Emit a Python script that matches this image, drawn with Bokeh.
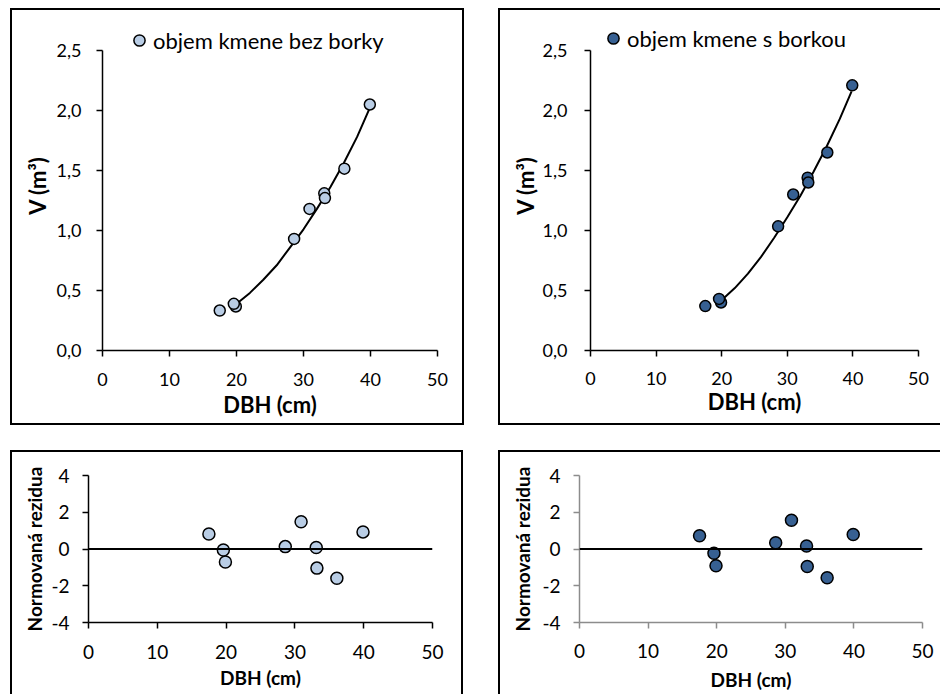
from bokeh.plotting import figure
from bokeh.models import Range1d, FixedTicker, Legend, LegendItem, Span
from bokeh.layouts import column, row
from bokeh.embed import file_html
from bokeh.resources import INLINE

# ---------------- data ----------------
dbh = [17.5, 19.9, 19.6, 28.6, 30.9, 33.1, 33.2, 36.1, 39.9]
v_bez = [0.333, 0.367, 0.389, 0.93, 1.18, 1.31, 1.27, 1.515, 2.05]
v_s = [0.37, 0.40, 0.43, 1.035, 1.30, 1.44, 1.40, 1.65, 2.21]
res_bez = [0.82, -0.71, -0.05, 0.13, 1.48, 0.08, -1.04, -1.59, 0.93]
res_s = [0.72, -0.91, -0.23, 0.34, 1.56, 0.16, -0.95, -1.56, 0.79]

curve_dbh = [19.6, 22, 24, 26, 28, 30, 32, 34, 36, 38, 39.8]
curve_v_bez = [0.37, 0.48, 0.59, 0.71, 0.86, 1.01, 1.18, 1.36, 1.56, 1.78, 2.01]
curve_v_s = [0.40, 0.52, 0.64, 0.78, 0.94, 1.11, 1.29, 1.49, 1.70, 1.93, 2.16]

x_ticks = [0, 10, 20, 30, 40, 50]
x_tick_labels = ["0", "10", "20", "30", "40", "50"]
v_ticks = [0.0, 0.5, 1.0, 1.5, 2.0, 2.5]
v_tick_labels = ["0,0", "0,5", "1,0", "1,5", "2,0", "2,5"]
r_ticks = [-4, -2, 0, 2, 4]
r_tick_labels = ["-4", "-2", "0", "2", "4"]

label_bez = "objem kmene bez borky"
label_s = "objem kmene s borkou"
x_title = "DBH (cm)"
v_title = "V (m³)"
r_title = "Normovaná rezidua"

FILL_LIGHT = "#B9CDE5"
FILL_DARK = "#376092"
FONT = "Lato"


def border_style(sides):
    parts = []
    if "l" in sides:
        parts.append("inset 2px 0 0 0 #000")
    if "r" in sides:
        parts.append("inset -2px 0 0 0 #000")
    if "t" in sides:
        parts.append("inset 0 2px 0 0 #000")
    if "b" in sides:
        parts.append("inset 0 -2px 0 0 #000")
    return {"box-shadow": ", ".join(parts)}


def make_fig(width, height, mbl, mbr, mbt, mbb, y0, y1, margin, sides):
    p = figure(width=width, height=height,
               x_range=Range1d(0, 50), y_range=Range1d(y0, y1),
               output_backend="svg", toolbar_location=None,
               min_border_left=mbl, min_border_right=mbr,
               min_border_top=mbt, min_border_bottom=mbb)
    p.margin = margin
    p.styles = border_style(sides)
    p.grid.visible = False
    p.outline_line_color = None
    p.border_fill_color = None
    p.background_fill_color = None
    p.xaxis.ticker = FixedTicker(ticks=x_ticks)
    p.xaxis.major_label_overrides = {float(t): l for t, l in zip(x_ticks, x_tick_labels)}
    for ax in p.axis:
        ax.major_tick_in = 0
        ax.minor_tick_in = 0
        ax.minor_tick_out = 0
        ax.major_label_text_font = FONT
        ax.major_label_text_color = "#000000"
        ax.axis_label_text_font = FONT
        ax.axis_label_text_font_style = "bold"
        ax.axis_label_text_color = "#000000"
    return p


def top_panel(width, mbl, mbr, mbt, mbb, margin, sides, v, curve_v, fill, label, leg_loc,
              xls, xts, yls, yts):
    p = make_fig(width, 417, mbl, mbr, mbt, mbb, 0, 2.75, margin, sides)
    p.yaxis.ticker = FixedTicker(ticks=v_ticks)
    p.yaxis.major_label_overrides = {float(t): l for t, l in zip(v_ticks, v_tick_labels)}
    p.yaxis.bounds = (v_ticks[0], v_ticks[-1])
    for ax in p.axis:
        ax.axis_line_color = "#000000"
        ax.axis_line_width = 1.5
        ax.major_tick_line_color = "#000000"
        ax.major_tick_line_width = 1.5
        ax.major_tick_out = 6
        ax.major_label_text_font_size = "18px"
        ax.axis_label_text_font_size = "22px"
    p.xaxis.major_label_standoff = xls
    p.xaxis.axis_label_standoff = xts
    p.yaxis.major_label_standoff = yls
    p.yaxis.axis_label_standoff = yts
    p.xaxis.axis_label = x_title
    p.yaxis.axis_label = v_title
    p.line(curve_dbh, curve_v, line_color="#000000", line_width=2)
    r = p.scatter(dbh, v, size=11, fill_color=fill, line_color="#000000", line_width=1.5)
    leg = Legend(items=[LegendItem(label=label, renderers=[r])], location=leg_loc,
                 border_line_color=None, background_fill_alpha=0, padding=0, margin=0,
                 glyph_width=28, glyph_height=28, label_standoff=0, spacing=0,
                 label_text_font=FONT, label_text_font_size="22px", label_text_color="#000000")
    p.add_layout(leg)
    return p


def bottom_panel(width, mbl, mbr, mbt, mbb, margin, sides, res, fill, axis_color,
                 xls, xts, yls, yts):
    p = make_fig(width, 244, mbl, mbr, mbt, mbb, -4, 4, margin, sides)
    p.yaxis.ticker = FixedTicker(ticks=r_ticks)
    p.yaxis.major_label_overrides = {float(t): l for t, l in zip(r_ticks, r_tick_labels)}
    for ax in p.axis:
        ax.axis_line_color = axis_color
        ax.axis_line_width = 1.5
        ax.major_tick_line_color = axis_color
        ax.major_tick_line_width = 1.5
        ax.major_tick_out = 6
        ax.major_label_text_font_size = "19px"
        ax.axis_label_text_font_size = "19px"
    p.xaxis.major_label_standoff = xls
    p.xaxis.axis_label_standoff = xts
    p.yaxis.major_label_standoff = yls
    p.yaxis.axis_label_standoff = yts
    p.xaxis.axis_label = x_title
    p.yaxis.axis_label = r_title
    p.add_layout(Span(location=0, dimension="width", line_color="#000000", line_width=2))
    p.scatter(dbh, res, size=12, fill_color=fill, line_color="#000000", line_width=1.5)
    return p


p1 = top_panel(454, 92, 27, 12, 75, (8, 0, 0, 10), "lrtb", v_bez, curve_v_bez, FILL_LIGHT,
               label_bez, (23, 296), 16, 2, 15, 3)
p2 = top_panel(442, 92, 22, 11, 71, (8, 0, 0, 34), "ltb", v_s, curve_v_s, FILL_DARK,
               label_s, (9, 298), 15, 0, 17, 1)
p3 = bottom_panel(453, 78, 31, 25, 72, (25, 0, 0, 10), "lrt", res_bez, FILL_LIGHT, "#000000",
                  16, 4, 13, 2)
p4 = bottom_panel(442, 81, 18, 25, 70, (25, 0, 0, 35), "lt", res_s, FILL_DARK, "#8C8C8C",
                  15, 7, 13, 5)

layout = column(row(p1, p2), row(p3, p4))

open("out.html", "w").write(file_html(layout, INLINE))
